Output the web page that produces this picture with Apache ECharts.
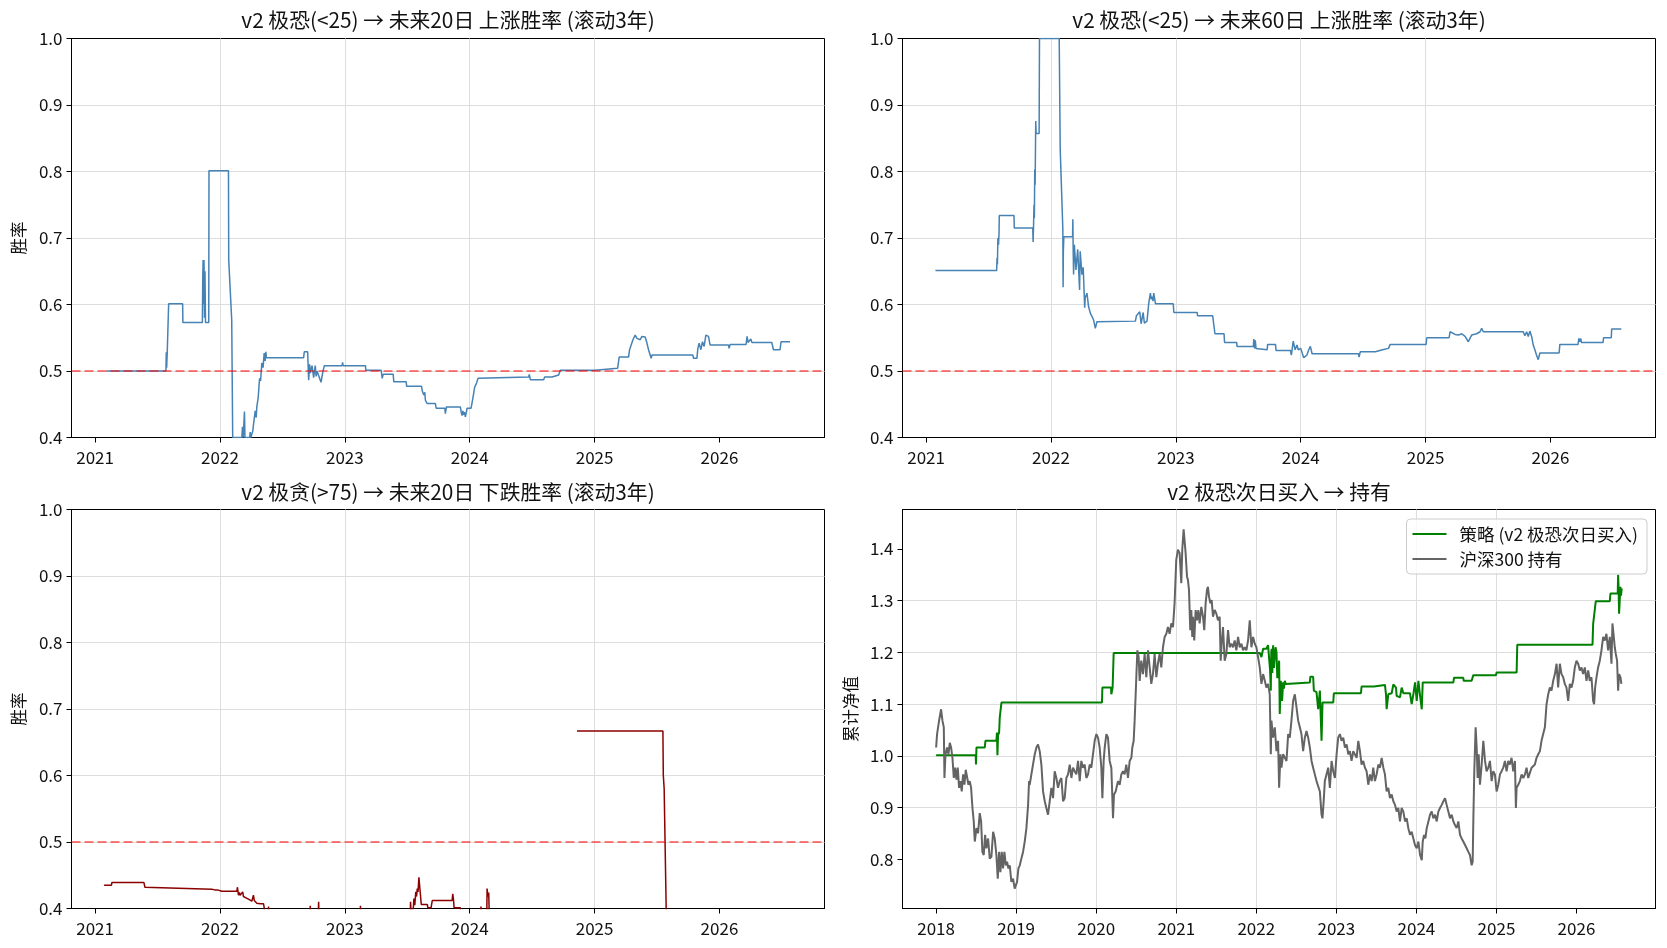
<!DOCTYPE html>
<html>
<head>
<meta charset="utf-8">
<script src="https://cdn.jsdelivr.net/npm/echarts@6/dist/echarts.min.js"></script>
<style>
  html, body { margin: 0; padding: 0; background: #fff; }
  #main { width: 1667px; height: 948px; }
</style>
</head>
<body>
<div id="main"></div>
<script>
const FONT = '"Noto Sans CJK SC", "Noto Sans", sans-serif';

const titles = [
  'v2 极恐(<25) → 未来20日 上涨胜率 (滚动3年)',
  'v2 极恐(<25) → 未来60日 上涨胜率 (滚动3年)',
  'v2 极贪(>75) → 未来20日 下跌胜率 (滚动3年)',
  'v2 极恐次日买入 → 持有'
];
const rateYears = [2021, 2022, 2023, 2024, 2025, 2026];
const navYears = [2018, 2019, 2020, 2021, 2022, 2023, 2024, 2025, 2026];
const navTicks = [0.8, 0.9, 1.0, 1.1, 1.2, 1.3, 1.4];
const legendNames = ['策略 (v2 极恐次日买入)', '沪深300 持有'];

// [decimal year, win rate]
const fear20 = [
  [2021.091,0.500],[2021.567,0.500],[2021.570,0.528],[2021.573,0.505],[2021.578,0.530],[2021.589,0.601],[2021.701,0.601],[2021.703,0.573],[2021.859,0.573],[2021.862,0.640],
  [2021.865,0.667],[2021.868,0.600],[2021.872,0.667],[2021.876,0.580],[2021.880,0.650],[2021.884,0.573],[2021.910,0.573],[2021.912,0.801],[2022.068,0.801],[2022.070,0.667],
  [2022.094,0.577],[2022.102,0.400],[2022.175,0.400],[2022.180,0.416],[2022.186,0.400],[2022.196,0.439],[2022.200,0.400],[2022.238,0.400],[2022.242,0.408],[2022.247,0.400],
  [2022.263,0.410],[2022.268,0.419],[2022.282,0.440],[2022.290,0.430],[2022.295,0.446],[2022.306,0.460],[2022.317,0.489],[2022.325,0.485],[2022.335,0.512],[2022.345,0.505],
  [2022.354,0.527],[2022.362,0.515],[2022.367,0.529],[2022.372,0.520],[2022.670,0.520],[2022.675,0.529],[2022.702,0.529],[2022.710,0.486],[2022.718,0.510],[2022.723,0.497],
  [2022.737,0.508],[2022.750,0.490],[2022.763,0.508],[2022.770,0.492],[2022.777,0.500],[2022.790,0.497],[2022.809,0.483],[2022.825,0.500],[2022.836,0.508],[2022.978,0.508],
  [2022.982,0.513],[2022.986,0.508],[2023.165,0.508],[2023.168,0.501],[2023.291,0.501],[2023.299,0.489],[2023.307,0.495],[2023.387,0.495],[2023.392,0.484],[2023.491,0.484],
  [2023.495,0.477],[2023.614,0.477],[2023.620,0.470],[2023.632,0.464],[2023.640,0.468],[2023.645,0.456],[2023.659,0.451],[2023.725,0.451],[2023.731,0.444],[2023.800,0.444],
  [2023.805,0.436],[2023.813,0.446],[2023.925,0.446],[2023.932,0.438],[2023.939,0.433],[2023.945,0.440],[2023.952,0.434],[2023.958,0.438],[2023.965,0.431],[2023.979,0.444],
  [2024.011,0.444],[2024.027,0.461],[2024.040,0.476],[2024.053,0.481],[2024.067,0.489],[2024.080,0.491],[2024.472,0.491],[2024.477,0.495],[2024.485,0.487],[2024.592,0.487],
  [2024.600,0.491],[2024.659,0.491],[2024.664,0.494],[2024.712,0.494],[2024.725,0.501],[2025.005,0.501],[2025.011,0.504],[2025.184,0.504],[2025.197,0.521],[2025.272,0.521],
  [2025.280,0.532],[2025.293,0.534],[2025.307,0.547],[2025.325,0.554],[2025.339,0.549],[2025.352,0.552],[2025.365,0.547],[2025.379,0.552],[2025.392,0.549],[2025.405,0.551],
  [2025.419,0.542],[2025.432,0.532],[2025.445,0.524],[2025.453,0.519],[2025.459,0.524],[2025.787,0.524],[2025.792,0.519],[2025.819,0.519],[2025.827,0.534],[2025.837,0.542],
  [2025.851,0.532],[2025.864,0.544],[2025.877,0.537],[2025.891,0.554],[2025.904,0.557],[2025.912,0.552],[2025.925,0.539],[2026.072,0.539],[2026.077,0.534],[2026.085,0.540],
  [2026.213,0.540],[2026.221,0.552],[2026.229,0.543],[2026.251,0.548],[2026.259,0.543],[2026.419,0.543],[2026.432,0.532],[2026.485,0.532],[2026.493,0.544],[2026.565,0.544]
];

const fear60 = [
  [2021.075,0.651],[2021.565,0.651],[2021.568,0.670],[2021.571,0.660],[2021.575,0.700],[2021.580,0.690],[2021.584,0.707],[2021.586,0.734],[2021.704,0.734],[2021.706,0.715],
  [2021.854,0.715],[2021.857,0.694],[2021.860,0.715],[2021.864,0.750],[2021.867,0.730],[2021.870,0.803],[2021.873,0.780],[2021.878,0.876],[2021.881,0.857],[2021.905,0.857],
  [2021.908,1.000],[2022.066,1.000],[2022.074,0.833],[2022.095,0.713],[2022.097,0.626],[2022.099,0.680],[2022.103,0.702],[2022.173,0.702],[2022.175,0.728],[2022.178,0.680],
  [2022.181,0.645],[2022.187,0.690],[2022.194,0.687],[2022.200,0.652],[2022.207,0.652],[2022.214,0.683],[2022.221,0.683],[2022.229,0.622],[2022.234,0.680],[2022.248,0.645],
  [2022.258,0.656],[2022.266,0.656],[2022.270,0.595],[2022.274,0.610],[2022.288,0.617],[2022.301,0.597],[2022.315,0.587],[2022.330,0.585],[2022.341,0.577],[2022.355,0.564],
  [2022.368,0.574],[2022.374,0.575],[2022.676,0.575],[2022.684,0.583],[2022.700,0.583],[2022.711,0.589],[2022.722,0.571],[2022.738,0.588],[2022.748,0.572],[2022.769,0.575],
  [2022.783,0.602],[2022.796,0.617],[2022.803,0.608],[2022.810,0.612],[2022.817,0.605],[2022.823,0.617],[2022.837,0.601],[2022.979,0.601],[2022.984,0.588],[2023.171,0.588],
  [2023.174,0.583],[2023.295,0.583],[2023.313,0.556],[2023.386,0.556],[2023.390,0.543],[2023.487,0.543],[2023.490,0.537],[2023.621,0.537],[2023.624,0.548],[2023.630,0.534],
  [2023.636,0.546],[2023.642,0.534],[2023.651,0.532],[2023.731,0.532],[2023.735,0.540],[2023.798,0.540],[2023.802,0.531],[2023.917,0.531],[2023.925,0.524],[2023.940,0.545],
  [2023.955,0.532],[2023.970,0.539],[2023.980,0.532],[2023.995,0.529],[2024.000,0.534],[2024.024,0.520],[2024.037,0.517],[2024.050,0.524],[2024.064,0.532],[2024.077,0.537],
  [2024.091,0.526],[2024.463,0.526],[2024.467,0.521],[2024.477,0.529],[2024.597,0.529],[2024.600,0.532],[2024.655,0.532],[2024.658,0.534],[2024.703,0.534],[2024.716,0.540],
  [2025.004,0.540],[2025.009,0.550],[2025.188,0.550],[2025.196,0.559],[2025.210,0.556],[2025.236,0.555],[2025.263,0.554],[2025.289,0.556],[2025.316,0.552],[2025.329,0.549],
  [2025.342,0.544],[2025.355,0.549],[2025.369,0.554],[2025.382,0.552],[2025.409,0.556],[2025.436,0.559],[2025.449,0.564],[2025.462,0.559],[2025.782,0.559],[2025.795,0.553],
  [2025.809,0.559],[2025.822,0.552],[2025.835,0.560],[2025.849,0.552],[2025.862,0.539],[2025.875,0.532],[2025.888,0.524],[2025.902,0.517],[2025.915,0.527],[2026.069,0.527],
  [2026.075,0.540],[2026.221,0.540],[2026.227,0.549],[2026.235,0.544],[2026.242,0.549],[2026.248,0.543],[2026.421,0.543],[2026.425,0.550],[2026.487,0.550],[2026.490,0.563],
  [2026.567,0.563]
];

// null = no value (gap in the line)
const greed20 = [
  [2021.072,0.435],[2021.131,0.435],[2021.134,0.439],[2021.391,0.439],[2021.399,0.432],[2021.412,0.429],[2021.934,0.429],[2021.937,0.432],[2021.942,0.426],[2021.947,0.430],
  [2021.960,0.428],[2021.974,0.425],[2021.980,0.428],[2022.014,0.426],[2022.135,0.426],[2022.140,0.432],[2022.148,0.420],[2022.155,0.424],[2022.161,0.420],[2022.175,0.420],
  [2022.182,0.425],[2022.188,0.418],[2022.201,0.421],[2022.208,0.416],[2022.215,0.419],[2022.228,0.414],[2022.242,0.416],[2022.255,0.411],[2022.268,0.420],[2022.275,0.412],
  [2022.282,0.414],[2022.295,0.408],[2022.322,0.407],[2022.349,0.407],[2022.355,0.400],[2022.362,0.380],[2022.385,0.380],[2022.389,0.403],[2022.393,0.380],[2022.720,0.380],
  [2022.723,0.404],[2022.726,0.380],[2022.785,0.380],[2022.790,0.410],[2022.794,0.380],[2023.120,0.380],[2023.125,0.404],[2023.130,0.380],[2023.522,0.380],[2023.526,0.410],
  [2023.530,0.395],[2023.548,0.400],[2023.553,0.415],[2023.560,0.405],[2023.568,0.425],[2023.574,0.418],[2023.580,0.430],[2023.586,0.425],[2023.593,0.447],[2023.600,0.432],
  [2023.606,0.432],[2023.612,0.406],[2023.660,0.406],[2023.665,0.401],[2023.690,0.401],[2023.700,0.412],[2023.859,0.412],[2023.864,0.422],[2023.869,0.415],[2023.875,0.401],
  [2023.925,0.401],[2023.930,0.380],[2024.085,0.380],[2024.090,0.403],[2024.095,0.380],[2024.136,0.380],[2024.139,0.430],[2024.145,0.418],[2024.152,0.424],[2024.158,0.380],
  [2024.400,null],[2024.859,0.667],[2025.547,0.667],[2025.550,0.601],[2025.557,0.580],[2025.575,0.380],[2025.600,0.300]
];

// [decimal year, cumulative NAV]
const strategyNav = [
  [2018.000,1.001],[2018.495,1.001],[2018.498,0.983],[2018.504,1.016],[2018.608,1.016],[2018.616,1.029],[2018.753,1.029],[2018.760,1.045],[2018.766,1.001],[2018.774,1.040],
  [2018.787,1.045],[2018.795,1.074],[2018.807,1.076],[2018.816,1.103],[2020.072,1.103],[2020.077,1.132],[2020.185,1.132],[2020.189,1.119],[2020.201,1.119],[2020.205,1.132],
  [2020.218,1.199],[2022.043,1.199],[2022.064,1.191],[2022.085,1.207],[2022.126,1.207],[2022.147,1.214],[2022.168,1.214],[2022.172,1.165],[2022.181,1.126],[2022.187,1.201],
  [2022.193,1.207],[2022.200,1.160],[2022.210,1.214],[2022.220,1.170],[2022.231,1.171],[2022.240,1.210],[2022.252,1.201],[2022.262,1.150],[2022.272,1.165],[2022.285,1.184],
  [2022.293,1.081],[2022.306,1.145],[2022.314,1.130],[2022.322,1.106],[2022.335,1.142],[2022.345,1.130],[2022.356,1.145],[2022.368,1.139],[2022.377,1.142],[2022.669,1.142],
  [2022.675,1.153],[2022.710,1.153],[2022.719,1.126],[2022.752,1.123],[2022.773,1.090],[2022.794,1.126],[2022.815,1.029],[2022.827,1.103],[2022.961,1.103],[2022.969,1.121],
  [2023.307,1.121],[2023.315,1.134],[2023.470,1.134],[2023.475,1.137],[2023.607,1.137],[2023.620,1.119],[2023.628,1.090],[2023.649,1.119],[2023.691,1.121],[2023.712,1.138],
  [2023.745,1.132],[2023.753,1.116],[2023.795,1.113],[2023.816,1.132],[2023.837,1.121],[2023.920,1.121],[2023.941,1.100],[2023.963,1.120],[2023.983,1.142],[2024.004,1.106],
  [2024.025,1.145],[2024.046,1.116],[2024.067,1.090],[2024.079,1.142],[2024.462,1.142],[2024.470,1.151],[2024.586,1.151],[2024.590,1.145],[2024.690,1.145],[2024.711,1.156],
  [2024.994,1.156],[2025.002,1.161],[2025.252,1.161],[2025.260,1.215],[2026.200,1.215],[2026.208,1.255],[2026.241,1.299],[2026.416,1.299],[2026.424,1.314],[2026.515,1.314],
  [2026.520,1.350],[2026.525,1.330],[2026.532,1.275],[2026.540,1.300],[2026.549,1.327],[2026.556,1.310],[2026.565,1.324]
];

const hs300Nav = [
  [2018.000,1.016],[2018.012,1.042],[2018.037,1.068],[2018.062,1.090],[2018.079,1.068],[2018.096,1.055],[2018.104,0.957],[2018.117,1.003],[2018.137,1.016],[2018.154,1.003],
  [2018.171,1.025],[2018.187,1.016],[2018.204,0.996],[2018.221,0.957],[2018.237,0.977],[2018.254,0.954],[2018.270,0.977],[2018.287,0.938],[2018.304,0.951],[2018.320,0.931],
  [2018.337,0.964],[2018.354,0.944],[2018.370,0.973],[2018.387,0.970],[2018.404,0.944],[2018.420,0.951],[2018.437,0.938],[2018.454,0.899],[2018.470,0.873],[2018.483,0.834],
  [2018.504,0.860],[2018.524,0.850],[2018.545,0.889],[2018.562,0.873],[2018.578,0.814],[2018.595,0.808],[2018.612,0.847],[2018.628,0.821],[2018.649,0.840],[2018.670,0.801],
  [2018.691,0.805],[2018.712,0.853],[2018.732,0.840],[2018.753,0.808],[2018.770,0.762],[2018.787,0.814],[2018.803,0.775],[2018.820,0.814],[2018.836,0.782],[2018.853,0.814],
  [2018.870,0.788],[2018.886,0.795],[2018.903,0.782],[2018.920,0.788],[2018.940,0.756],[2018.961,0.762],[2018.982,0.743],[2018.995,0.740],[2019.011,0.756],[2019.028,0.782],
  [2019.045,0.788],[2019.065,0.801],[2019.086,0.814],[2019.107,0.834],[2019.128,0.860],[2019.149,0.905],[2019.161,0.951],[2019.169,0.944],[2019.190,0.964],[2019.211,0.964],
  [2019.232,1.003],[2019.253,1.016],[2019.273,1.022],[2019.294,1.009],[2019.315,0.983],[2019.336,0.931],[2019.357,0.912],[2019.377,0.899],[2019.398,0.886],[2019.419,0.912],
  [2019.440,0.938],[2019.461,0.918],[2019.481,0.970],[2019.502,0.957],[2019.523,0.938],[2019.544,0.951],[2019.565,0.957],[2019.586,0.912],[2019.606,0.918],[2019.627,0.957],
  [2019.648,0.964],[2019.669,0.983],[2019.690,0.957],[2019.710,0.977],[2019.731,0.970],[2019.752,0.964],[2019.773,0.990],[2019.794,0.951],[2019.814,0.990],[2019.835,0.977],
  [2019.856,0.983],[2019.877,0.957],[2019.898,0.964],[2019.918,0.983],[2019.939,0.977],[2019.960,1.003],[2019.981,1.029],[2020.002,1.042],[2020.022,1.035],[2020.043,1.016],
  [2020.064,0.977],[2020.077,0.918],[2020.093,0.990],[2020.106,1.016],[2020.127,1.042],[2020.147,1.035],[2020.168,0.990],[2020.189,0.977],[2020.210,0.879],[2020.222,0.925],
  [2020.243,0.931],[2020.272,0.951],[2020.293,0.944],[2020.314,0.964],[2020.335,0.970],[2020.355,0.964],[2020.376,0.983],[2020.397,0.957],[2020.418,0.990],[2020.439,0.996],
  [2020.451,1.016],[2020.468,1.029],[2020.480,1.068],[2020.493,1.119],[2020.501,1.152],[2020.514,1.204],[2020.530,1.191],[2020.543,1.145],[2020.563,1.184],[2020.584,1.158],
  [2020.605,1.197],[2020.626,1.152],[2020.647,1.204],[2020.668,1.171],[2020.688,1.139],[2020.709,1.158],[2020.730,1.197],[2020.751,1.152],[2020.771,1.178],[2020.792,1.197],
  [2020.813,1.171],[2020.834,1.210],[2020.855,1.230],[2020.876,1.236],[2020.896,1.249],[2020.917,1.236],[2020.938,1.256],[2020.959,1.249],[2020.979,1.295],[2021.000,1.379],
  [2021.021,1.399],[2021.042,1.392],[2021.063,1.334],[2021.075,1.399],[2021.092,1.438],[2021.104,1.441],[2021.117,1.392],[2021.134,1.347],[2021.146,1.340],[2021.159,1.321],
  [2021.167,1.282],[2021.175,1.243],[2021.188,1.282],[2021.200,1.230],[2021.209,1.269],[2021.225,1.223],[2021.242,1.282],[2021.259,1.262],[2021.275,1.282],[2021.292,1.256],
  [2021.313,1.288],[2021.334,1.269],[2021.350,1.243],[2021.367,1.295],[2021.384,1.321],[2021.396,1.327],[2021.409,1.308],[2021.426,1.295],[2021.442,1.301],[2021.459,1.269],
  [2021.480,1.282],[2021.501,1.275],[2021.521,1.262],[2021.542,1.269],[2021.555,1.184],[2021.567,1.217],[2021.584,1.249],[2021.605,1.184],[2021.626,1.197],[2021.647,1.243],
  [2021.667,1.210],[2021.688,1.217],[2021.709,1.210],[2021.730,1.223],[2021.751,1.204],[2021.772,1.230],[2021.793,1.210],[2021.814,1.217],[2021.834,1.204],[2021.855,1.210],
  [2021.876,1.204],[2021.897,1.223],[2021.918,1.262],[2021.939,1.210],[2021.960,1.230],[2021.980,1.217],[2022.001,1.210],[2022.022,1.191],[2022.043,1.171],[2022.064,1.139],
  [2022.085,1.158],[2022.106,1.145],[2022.126,1.132],[2022.147,1.139],[2022.168,1.119],[2022.181,1.003],[2022.189,1.068],[2022.197,1.055],[2022.210,1.035],[2022.231,1.055],
  [2022.252,1.009],[2022.272,1.029],[2022.285,0.938],[2022.302,1.003],[2022.314,0.977],[2022.335,1.003],[2022.356,1.003],[2022.377,0.990],[2022.398,1.042],[2022.418,1.035],
  [2022.439,1.068],[2022.460,1.106],[2022.481,1.119],[2022.502,1.094],[2022.523,1.068],[2022.544,1.055],[2022.564,1.042],[2022.585,1.009],[2022.606,1.035],[2022.627,1.048],
  [2022.648,1.035],[2022.669,1.016],[2022.690,0.990],[2022.710,0.977],[2022.731,0.964],[2022.752,0.951],[2022.773,0.951],[2022.794,0.931],[2022.815,0.886],[2022.827,0.879],
  [2022.844,0.918],[2022.856,0.951],[2022.877,0.951],[2022.898,0.977],[2022.919,0.938],[2022.940,0.990],[2022.961,0.970],[2022.982,0.957],[2023.003,1.003],[2023.023,1.035],
  [2023.044,1.042],[2023.065,1.029],[2023.086,1.035],[2023.107,1.016],[2023.128,1.022],[2023.149,1.003],[2023.169,1.009],[2023.190,0.990],[2023.211,1.009],[2023.232,1.009],
  [2023.253,0.996],[2023.274,1.029],[2023.295,1.009],[2023.315,0.983],[2023.336,0.990],[2023.357,0.977],[2023.378,0.970],[2023.399,0.944],[2023.420,0.964],[2023.441,0.951],
  [2023.461,0.977],[2023.482,0.951],[2023.503,0.964],[2023.524,0.983],[2023.545,0.977],[2023.566,0.996],[2023.587,0.977],[2023.607,0.964],[2023.628,0.931],[2023.649,0.938],
  [2023.670,0.918],[2023.691,0.925],[2023.712,0.912],[2023.733,0.905],[2023.753,0.892],[2023.774,0.899],[2023.795,0.873],[2023.816,0.899],[2023.837,0.892],[2023.858,0.873],
  [2023.879,0.879],[2023.899,0.860],[2023.920,0.847],[2023.941,0.853],[2023.962,0.840],[2023.983,0.827],[2024.004,0.821],[2024.025,0.834],[2024.046,0.808],[2024.067,0.798],
  [2024.079,0.834],[2024.096,0.847],[2024.112,0.840],[2024.129,0.860],[2024.150,0.873],[2024.170,0.886],[2024.191,0.892],[2024.212,0.879],[2024.233,0.886],[2024.254,0.873],
  [2024.274,0.892],[2024.295,0.899],[2024.316,0.905],[2024.337,0.912],[2024.358,0.918],[2024.378,0.905],[2024.399,0.892],[2024.420,0.879],[2024.441,0.886],[2024.462,0.873],
  [2024.482,0.866],[2024.503,0.860],[2024.524,0.873],[2024.545,0.847],[2024.565,0.840],[2024.586,0.834],[2024.607,0.834],[2024.628,0.821],[2024.649,0.814],[2024.669,0.808],
  [2024.690,0.788],[2024.703,0.795],[2024.711,0.873],[2024.723,0.970],[2024.740,1.055],[2024.753,1.016],[2024.765,0.957],[2024.778,1.003],[2024.794,0.944],[2024.815,0.983],
  [2024.836,1.029],[2024.857,0.990],[2024.877,0.970],[2024.898,0.977],[2024.919,0.990],[2024.940,0.951],[2024.960,0.970],[2024.981,0.964],[2025.002,0.931],[2025.023,0.944],
  [2025.044,0.964],[2025.064,0.970],[2025.085,0.977],[2025.106,0.990],[2025.127,0.970],[2025.148,0.990],[2025.168,0.983],[2025.189,0.996],[2025.210,0.970],[2025.231,0.990],
  [2025.243,0.899],[2025.252,0.938],[2025.272,0.944],[2025.293,0.951],[2025.314,0.964],[2025.335,0.957],[2025.356,0.964],[2025.376,0.977],[2025.397,0.957],[2025.418,0.957],
  [2025.439,0.977],[2025.459,0.977],[2025.480,0.983],[2025.501,0.996],[2025.522,1.003],[2025.543,1.009],[2025.563,1.029],[2025.584,1.042],[2025.605,1.055],[2025.626,1.100],
  [2025.647,1.119],[2025.667,1.132],[2025.688,1.126],[2025.709,1.145],[2025.730,1.158],[2025.751,1.178],[2025.771,1.132],[2025.792,1.178],[2025.813,1.158],[2025.834,1.152],
  [2025.854,1.139],[2025.875,1.132],[2025.896,1.106],[2025.917,1.139],[2025.938,1.132],[2025.958,1.145],[2025.979,1.171],[2026.000,1.184],[2026.021,1.178],[2026.042,1.165],
  [2026.062,1.171],[2026.083,1.158],[2026.104,1.171],[2026.125,1.145],[2026.146,1.165],[2026.166,1.145],[2026.187,1.152],[2026.208,1.106],[2026.220,1.100],[2026.233,1.132],
  [2026.250,1.152],[2026.270,1.171],[2026.291,1.184],[2026.312,1.204],[2026.333,1.230],[2026.353,1.223],[2026.374,1.236],[2026.395,1.204],[2026.416,1.230],[2026.437,1.178],
  [2026.449,1.256],[2026.466,1.230],[2026.478,1.210],[2026.491,1.197],[2026.507,1.184],[2026.520,1.126],[2026.532,1.158],[2026.549,1.152],[2026.561,1.139]
];

const toSeriesData = rows => rows.map(r => (r[1] == null ? [r[0], '-'] : r));

// half-pixel offsets keep the 1px black frame crisp
const grids = [
  { left: 71.5, top: 38.5, width: 753, height: 399 },
  { left: 902.5, top: 38.5, width: 753, height: 399 },
  { left: 71.5, top: 509.5, width: 753, height: 399 },
  { left: 902.5, top: 509.5, width: 753, height: 399 }
].map(g => Object.assign(g, { show: true, borderColor: '#000', borderWidth: 1, backgroundColor: 'transparent' }));

const labelStyle = { color: '#111', fontSize: 17, fontFamily: FONT };
const nameStyle = { color: '#111', fontSize: 16.5, fontFamily: FONT };
const tickStyle = { show: true, length: 5, lineStyle: { color: '#000', width: 1 } };
const gridLine = { show: true, showMinLine: false, showMaxLine: false, lineStyle: { color: '#dddddd', width: 1 } };
const spine = { show: true, onZero: false, lineStyle: { color: '#000', width: 1 } };

function yearAxis(gridIndex, min, max, years) {
  return {
    type: 'value', gridIndex: gridIndex, min: min, max: max,
    axisLine: spine,
    axisTick: Object.assign({ customValues: years }, tickStyle),
    axisLabel: Object.assign({ customValues: years, margin: 12, formatter: v => String(Math.round(v)) }, labelStyle),
    splitLine: gridLine
  };
}

function rateAxis(gridIndex, name) {
  return {
    type: 'value', gridIndex: gridIndex, min: 0.4, max: 1.0, interval: 0.1,
    name: name, nameLocation: 'middle', nameGap: 45, nameRotate: 90,
    nameTextStyle: nameStyle,
    axisLine: spine,
    axisTick: tickStyle,
    axisLabel: Object.assign({ margin: 9, formatter: v => v.toFixed(1) }, labelStyle),
    splitLine: gridLine
  };
}

const halfLine = {
  silent: true, symbol: 'none', animation: false,
  label: { show: false },
  lineStyle: { color: 'rgba(255,0,0,0.5)', type: [9, 4], width: 2 },
  data: [{ yAxis: 0.5 }]
};

function rateSeries(idx, rows, color) {
  return {
    type: 'line', xAxisIndex: idx, yAxisIndex: idx,
    data: toSeriesData(rows), symbol: 'none', connectNulls: false,
    lineStyle: { color: color, width: 1.5 },
    markLine: halfLine
  };
}

const titleCenters = [[448, 10], [1279, 10], [448, 482], [1279, 482]];

const option = {
  animation: false,
  backgroundColor: '#fff',
  title: titles.map((t, i) => ({
    text: t, left: titleCenters[i][0], top: titleCenters[i][1], textAlign: 'center', padding: 0,
    textStyle: { fontSize: 20.8, fontWeight: 'normal', color: '#111', fontFamily: FONT }
  })),
  legend: {
    data: legendNames, orient: 'vertical', right: 20, top: 519,
    icon: 'rect', itemWidth: 34, itemHeight: 2, itemGap: 7,
    padding: [6, 9, 6, 6],
    backgroundColor: 'rgba(255,255,255,0.8)', borderColor: '#cccccc', borderWidth: 1, borderRadius: 4,
    textStyle: { color: '#111', fontSize: 17.5, lineHeight: 18, fontFamily: FONT, padding: [0, 0, 0, 8] }
  },
  grid: grids,
  xAxis: [
    yearAxis(0, 2020.811, 2026.841, rateYears),
    yearAxis(1, 2020.811, 2026.841, rateYears),
    yearAxis(2, 2020.811, 2026.841, rateYears),
    yearAxis(3, 2017.580, 2026.987, navYears)
  ],
  yAxis: [
    rateAxis(0, '胜率'),
    rateAxis(1, ''),
    rateAxis(2, '胜率'),
    {
      type: 'value', gridIndex: 3, min: 0.7045, max: 1.4765,
      name: '累计净值', nameLocation: 'middle', nameGap: 44, nameRotate: 90,
      nameTextStyle: nameStyle,
      axisLine: spine,
      axisTick: Object.assign({ customValues: navTicks }, tickStyle),
      axisLabel: Object.assign({ customValues: navTicks, margin: 9, formatter: v => v.toFixed(1) }, labelStyle),
      splitLine: gridLine
    }
  ],
  series: [
    rateSeries(0, fear20, '#4682b4'),
    rateSeries(1, fear60, '#4682b4'),
    rateSeries(2, greed20, '#8b0000'),
    {
      name: legendNames[0], type: 'line', xAxisIndex: 3, yAxisIndex: 3,
      data: strategyNav, symbol: 'none', lineStyle: { color: '#008000', width: 2 }, itemStyle: { color: '#008000' }
    },
    {
      name: legendNames[1], type: 'line', xAxisIndex: 3, yAxisIndex: 3,
      data: hs300Nav, symbol: 'none', lineStyle: { color: '#646464', width: 2 }, itemStyle: { color: '#646464' }
    }
  ]
};

const chart = echarts.init(document.getElementById('main'));
chart.setOption(option);
</script>
</body>
</html>
